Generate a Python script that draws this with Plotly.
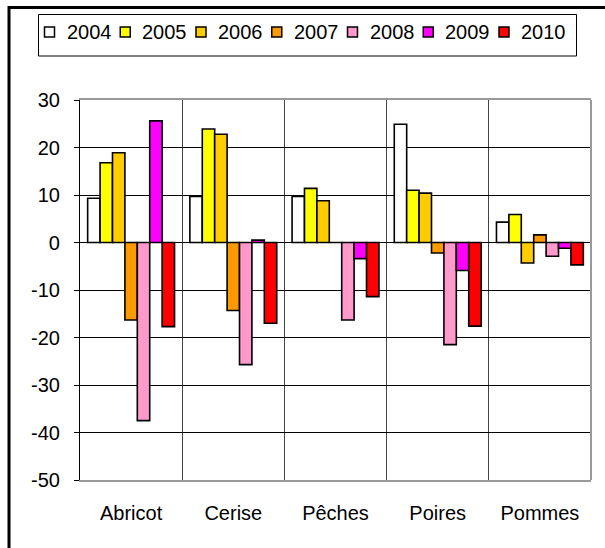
import plotly.graph_objects as go

# Fruit categories on the x axis
fruits = ["Abricot", "Cerise", "Pêches", "Poires", "Pommes"]

# Yearly variation (%) per fruit
v2004 = [9.3, 9.7, 9.7, 24.9, 4.3]
v2005 = [16.8, 23.9, 11.4, 11.0, 5.9]
v2006 = [18.9, 22.8, 8.8, 10.4, -4.3]
v2007 = [-16.3, -14.3, 0.0, -2.2, 1.6]
v2008 = [-37.5, -25.7, -16.3, -21.5, -2.9]
v2009 = [25.6, 0.5, -3.4, -5.9, -1.2]
v2010 = [-17.7, -17.0, -11.4, -17.6, -4.7]

years = ["2004", "2005", "2006", "2007", "2008", "2009", "2010"]
series = [v2004, v2005, v2006, v2007, v2008, v2009, v2010]
colors = ["#FFFFFF", "#FFFF00", "#FFCC00", "#FF9900", "#FF99CC", "#FF00FF", "#FF0000"]

y_ticks = [-50, -40, -30, -20, -10, 0, 10, 20, 30]

FONT = "Liberation Sans, Arial, sans-serif"

fig = go.Figure()
for name, vals, col in zip(years, series, colors):
    fig.add_trace(go.Bar(
        x=fruits, y=vals, name=name,
        marker=dict(color=col, line=dict(color="black", width=1.6)),
    ))

W, H = 605, 548
L, R, T, B = 80, 14, 100, 68
pw, ph = W - L - R, H - T - B

def px_x(x):
    return (x - L) / pw

def px_y(y):
    return (H - B - y) / ph

shapes = [
    # gray right edge of the plot area
    dict(type="line", xref="paper", yref="paper", x0=1, x1=1, y0=0, y1=1,
         line=dict(color="#999999", width=2)),
    # outer chart frame
    dict(type="rect", xref="paper", yref="paper",
         x0=px_x(9), x1=px_x(640), y0=px_y(580), y1=px_y(7.5),
         line=dict(color="black", width=3), layer="above"),
    # legend box
    dict(type="rect", xref="paper", yref="paper",
         x0=px_x(38.5), x1=px_x(576.5), y0=px_y(56), y1=px_y(14.5),
         line=dict(color="black", width=1), fillcolor="white", layer="above"),
]
annotations = []

# Legend row: swatch + year label for each series
step = 75.75
cy = 32
for i, (name, col) in enumerate(zip(years, colors)):
    sx = 49.5 + i * step
    shapes.append(dict(
        type="rect", xref="paper", yref="paper",
        x0=px_x(sx - 5), x1=px_x(sx + 5), y0=px_y(cy + 5), y1=px_y(cy - 5),
        line=dict(color="black", width=1.5), fillcolor=col, layer="above",
    ))
    annotations.append(dict(
        xref="paper", yref="paper", x=px_x(sx + 15), y=px_y(cy),
        xanchor="left", yanchor="middle", showarrow=False, text=name,
        font=dict(family=FONT, size=20, color="black"),
    ))

fig.update_layout(
    width=W, height=H,
    margin=dict(l=L, r=R, t=T, b=B),
    paper_bgcolor="white", plot_bgcolor="white",
    font=dict(family=FONT, size=20, color="black"),
    barmode="group", bargap=0.15, bargroupgap=0,
    showlegend=False,
    xaxis=dict(
        type="category", tickson="boundaries", ticks="",
        showgrid=True, gridcolor="#444444", gridwidth=1,
        showline=True, linecolor="#999999", linewidth=1.5, mirror=True,
        ticklabelstandoff=14,
        tickfont=dict(size=20),
    ),
    yaxis=dict(
        range=[-50, 30], tickvals=y_ticks, ticktext=[str(v) for v in y_ticks],
        ticks="outside", ticklen=5, tickcolor="black",
        showgrid=True, gridcolor="black", gridwidth=1,
        zeroline=True, zerolinecolor="black", zerolinewidth=1,
        showline=True, linecolor="black", linewidth=1.2,
        ticklabelstandoff=10,
        tickfont=dict(size=20),
    ),
    shapes=shapes,
    annotations=annotations,
)

fig.write_html("out.html")
